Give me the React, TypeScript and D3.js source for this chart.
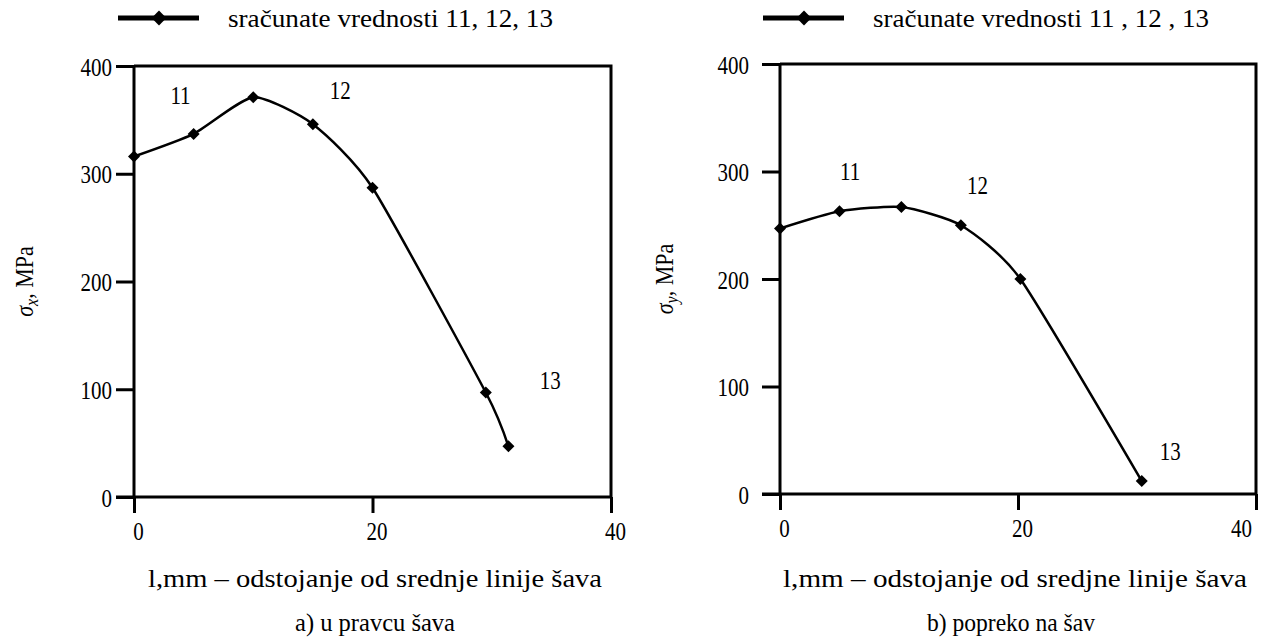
import React, { useEffect, useRef } from "react";
import * as d3 from "d3";

// x positions (mm) and computed stress values (MPa)
const leftX = [0, 5, 10, 15, 20, 29.5, 31.4];
const leftY = [316, 337, 371, 346, 287, 97, 47];
const rightX = [0, 5, 10.2, 15.2, 20.2, 30.4];
const rightY = [247, 263, 267, 250, 200, 12];

// point-group labels (data coords)
const annoText = ["11", "12", "13"];
const leftAnnoX = [3.9, 17.3, 34.9];
const leftAnnoY = [373, 378, 108];
const rightAnnoX = [5.9, 16.6, 32.8];
const rightAnnoY = [300, 287, 40];

const xTicks = [0, 20, 40];
const yTicks = [0, 100, 200, 300, 400];

const legendLeft = "sračunate vrednosti 11, 12, 13";
const legendRight = "sračunate vrednosti 11 , 12 , 13";
const xTitleLeft = "l,mm – odstojanje od srednje linije šava";
const xTitleRight = "l,mm – odstojanje od sredjne linije šava";
const subLeft = "a) u pravcu šava";
const subRight = "b) popreko na šav";

const FONT = "'Liberation Serif', 'Times New Roman', serif";
const SY = 1.2; // glyphs in the source are a bit taller than wide

interface Panel {
  left: number;
  right: number;
  top: number;
  bottom: number;
  xs: number[];
  ys: number[];
  annoX: number[];
  annoY: number[];
  sub: string;
  subW: number;
  subCx: number;
  legend: string;
  legendW: number;
  legendX: number;
  xTitle: string;
  xTitleW: number;
  xTitleCx: number;
  ySub: string;
  yLabelX: number;
  labelEnd: number;
  lastDx: number;
}

const panels: Panel[] = [
  {
    left: 134, right: 611, top: 66, bottom: 497,
    xs: leftX, ys: leftY, annoX: leftAnnoX, annoY: leftAnnoY,
    sub: subLeft, subW: 160, subCx: 375,
    legend: legendLeft, legendW: 325, legendX: 118,
    xTitle: xTitleLeft, xTitleW: 454, xTitleCx: 375,
    ySub: "x", yLabelX: 33, labelEnd: 112, lastDx: 4,
  },
  {
    left: 780, right: 1256, top: 64, bottom: 494,
    xs: rightX, ys: rightY, annoX: rightAnnoX, annoY: rightAnnoY,
    sub: subRight, subW: 168, subCx: 1011,
    legend: legendRight, legendW: 336, legendX: 763,
    xTitle: xTitleRight, xTitleW: 464, xTitleCx: 1015,
    ySub: "y", yLabelX: 673, labelEnd: 749, lastDx: -15,
  },
];

function App() {
  const svgRef: any = useRef(null);

  useEffect(() => {
    const svg = d3.select(svgRef.current);
    svg.selectAll("*").remove();

    const marker = d3.symbol().type(d3.symbolSquare).size(72);

    panels.forEach((p) => {
      const x = d3.scaleLinear().domain([0, 40]).range([p.left, p.right]);
      const y = d3.scaleLinear().domain([0, 400]).range([p.bottom, p.top]);
      const g = svg.append("g").style("font-family", FONT).style("font-size", "22px");

      // box (top + right)
      g.append("path")
        .attr("d", `M${p.left},${p.top}H${p.right}V${p.bottom}`)
        .attr("fill", "none")
        .attr("stroke", "#000")
        .attr("stroke-width", 3);

      // axes
      const yAxis = d3.axisLeft(y).tickValues(yTicks).tickSize(18);
      g.append("g")
        .attr("transform", `translate(${p.left},0)`)
        .call(yAxis)
        .call((a: any) => a.attr("font-family", null).attr("font-size", null))
        .call((a: any) => a.select(".domain").remove())
        .call((a: any) => a.selectAll("line").attr("stroke-width", 3))
        .call((a: any) =>
          a.selectAll("text")
            .attr("x", p.labelEnd - p.left)
            .attr("dy", "0.36em")
            .attr("transform", `scale(1,${SY})`)
            .style("font-family", FONT)
            .style("font-size", "21px")
        );
      g.append("line")
        .attr("x1", p.left).attr("x2", p.left)
        .attr("y1", p.top).attr("y2", p.bottom)
        .attr("stroke", "#000").attr("stroke-width", 3);

      const xAxis = d3.axisBottom(x).tickValues(xTicks).tickSize(16);
      g.append("g")
        .attr("transform", `translate(0,${p.bottom})`)
        .call(xAxis)
        .call((a: any) => a.attr("font-family", null).attr("font-size", null))
        .call((a: any) => a.select(".domain").remove())
        .call((a: any) => a.selectAll("line").attr("stroke-width", 3))
        .call((a: any) =>
          a.selectAll("text")
            .attr("y", 25 / SY)
            .attr("dx", (d: number) => (d === 40 ? p.lastDx : 4))
            .attr("transform", `scale(1,${SY})`)
            .style("font-family", FONT)
            .style("font-size", "21px")
        );
      g.append("line")
        .attr("x1", p.left - 18).attr("x2", p.right)
        .attr("y1", p.bottom).attr("y2", p.bottom)
        .attr("stroke", "#000").attr("stroke-width", 3);

      // curve
      const pts = p.xs.map((v, i) => [v, p.ys[i]] as [number, number]);
      const line = d3
        .line<[number, number]>()
        .x((d) => x(d[0]))
        .y((d) => y(d[1]))
        .curve(d3.curveCardinal.tension(0.4));
      g.append("path")
        .datum(pts)
        .attr("d", line)
        .attr("fill", "none")
        .attr("stroke", "#000")
        .attr("stroke-width", 2.5);
      g.selectAll(".pt")
        .data(pts)
        .enter()
        .append("path")
        .attr("d", marker as any)
        .attr("transform", (d) => `translate(${x(d[0])},${y(d[1])}) rotate(45)`)
        .attr("fill", "#000");

      // point group labels
      annoText.forEach((t, i) => {
        g.append("text")
          .attr("transform", `translate(${x(p.annoX[i])},${y(p.annoY[i])}) scale(1,${SY})`)
          .attr("dy", "0.35em")
          .attr("text-anchor", "middle")
          .style("font-size", "21px")
          .text(t);
      });

      // y label
      const yl = g.append("text")
        .attr("transform", `translate(${p.yLabelX},${(p.top + p.bottom) / 2}) rotate(-90) scale(1,1.15)`)
        .attr("text-anchor", "middle")
        .style("font-size", "22px");
      yl.append("tspan").attr("font-style", "italic").text("σ");
      yl.append("tspan").attr("font-style", "italic").style("font-size", "16px").attr("dy", 4).text(p.ySub);
      yl.append("tspan").attr("dy", -4).text(", MPa");

      // x title and subtitle
      g.append("text")
        .attr("transform", `translate(${p.xTitleCx},587) scale(1,1.1)`)
        .attr("text-anchor", "middle")
        .attr("textLength", p.xTitleW)
        .attr("lengthAdjust", "spacingAndGlyphs")
        .style("font-size", "23px")
        .text(p.xTitle);
      g.append("text")
        .attr("transform", `translate(${p.subCx},631) scale(1,1.1)`)
        .attr("text-anchor", "middle")
        .attr("textLength", p.subW)
        .attr("lengthAdjust", "spacingAndGlyphs")
        .style("font-size", "23px")
        .text(p.sub);

      // legend
      g.append("line")
        .attr("x1", p.legendX).attr("x2", p.legendX + 81)
        .attr("y1", 18).attr("y2", 18)
        .attr("stroke", "#000").attr("stroke-width", 5);
      g.append("path")
        .attr("d", d3.symbol().type(d3.symbolSquare).size(110)() as string)
        .attr("transform", `translate(${p.legendX + 41},18) rotate(45)`)
        .attr("fill", "#000");
      g.append("text")
        .attr("transform", `translate(${p.legendX + 110},18) scale(1,1.1)`)
        .attr("dy", "0.35em")
        .attr("textLength", p.legendW)
        .attr("lengthAdjust", "spacingAndGlyphs")
        .style("font-size", "23px")
        .text(p.legend);
    });
  }, []);

  return (
    <svg
      ref={svgRef}
      width={1263}
      height={641}
      style={{ position: "absolute", left: 0, top: 0, background: "#fff" }}
    />
  );
}

export default App;
